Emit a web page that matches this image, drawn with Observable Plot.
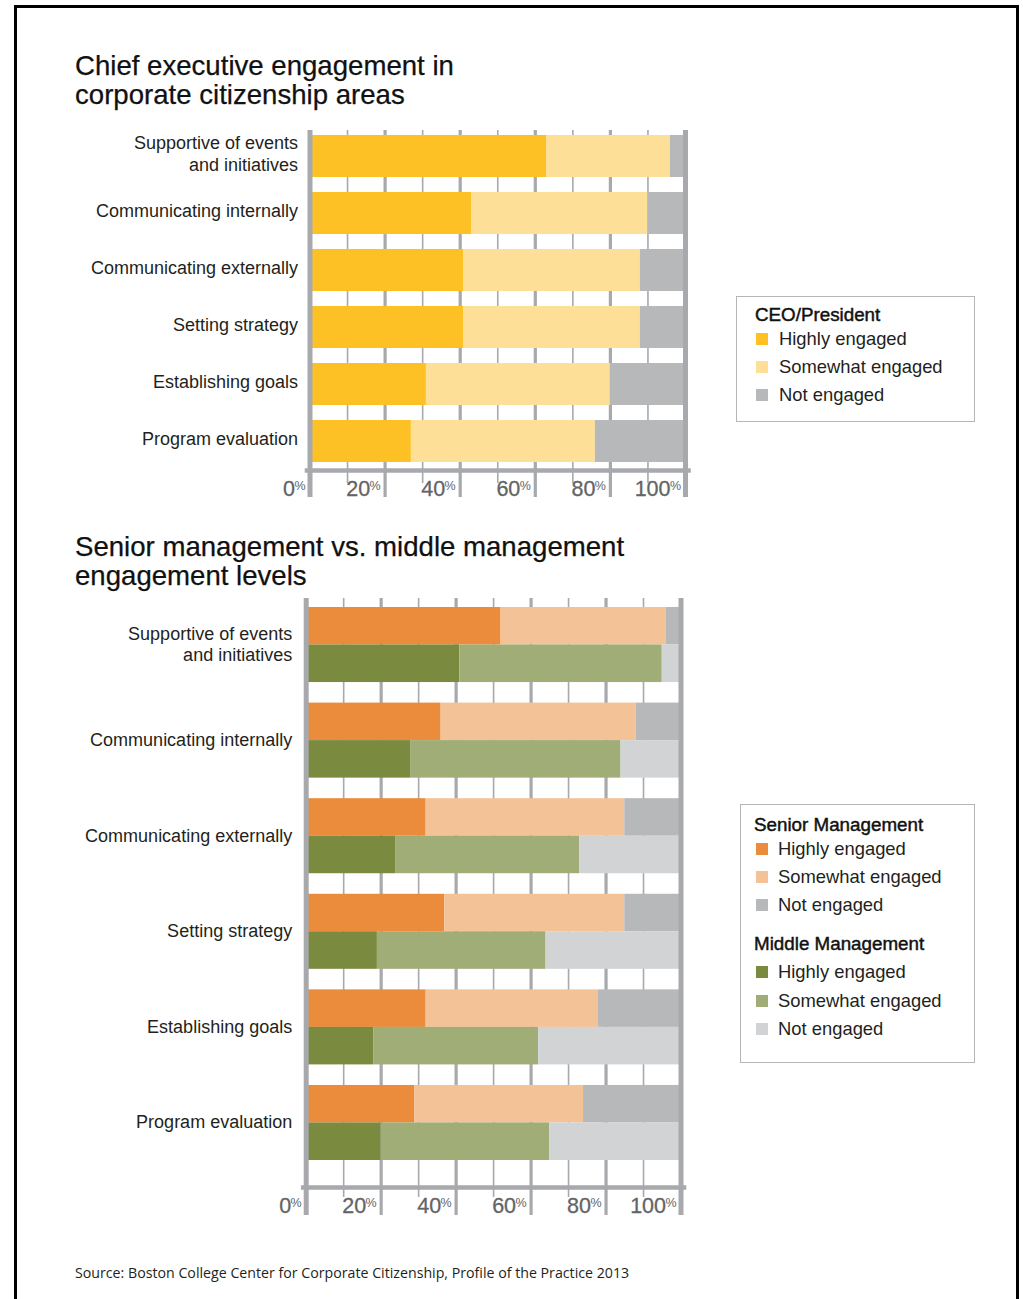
<!DOCTYPE html>
<html>
<head>
<meta charset="utf-8">
<script src="https://cdn.jsdelivr.net/npm/d3@7"></script>
<script src="https://cdn.jsdelivr.net/npm/@observablehq/plot@0.6"></script>
<style>
  html, body { margin: 0; padding: 0; width: 1023px; height: 1299px; overflow: hidden; background: #fff; }
  body { position: relative; font-family: "Liberation Sans", Arial, sans-serif; color: #231f20; }
  .page-border { position: absolute; left: 14px; top: 5px; width: 999px; height: 1300px; border: 3px solid #000; border-bottom: none; }
  .title { position: absolute; left: 75px; font-size: 27.6px; line-height: 29px; color: #111; -webkit-text-stroke: 0.25px #111; white-space: nowrap; }
  .chart { position: absolute; left: 0; }
  .legend { position: absolute; border: 1px solid #b5b6b8; box-sizing: border-box; }
  .legend .head { position: absolute; font-size: 18.8px; color: #111; -webkit-text-stroke: 0.45px #111; white-space: nowrap; transform: translateY(-50%); }
  .legend .item { position: absolute; font-size: 18.4px; color: #231f20; white-space: nowrap; transform: translateY(-50%); }
  .legend .sw { position: absolute; width: 12px; height: 12px; transform: translateY(-50%); }
  .source { position: absolute; left: 75px; top: 1263px; font-family: "Open Sans", sans-serif; font-size: 14.2px; color: #231f20; white-space: nowrap; }
</style>
</head>
<body>
<div class="page-border"></div>
<div class="title" style="top:51px">Chief executive engagement in<br>corporate citizenship areas</div>
<div class="title" style="top:532px">Senior management vs. middle management<br>engagement levels</div>
<div id="chart1" class="chart" style="top:120px"></div>
<div id="chart2" class="chart" style="top:590px"></div>
<div id="legend1" class="legend" style="left:736px; top:296px; width:239px; height:126px"></div>
<div id="legend2" class="legend" style="left:740px; top:804px; width:235px; height:259px"></div>
<div class="source">Source: Boston College Center for Corporate Citizenship, Profile of the Practice 2013</div>
<script>
// ---- Data ----
const categories = [
  "Supportive of events\nand initiatives",
  "Communicating internally",
  "Communicating externally",
  "Setting strategy",
  "Establishing goals",
  "Program evaluation"
];
const levels = ["Highly engaged", "Somewhat engaged", "Not engaged"];

// CEO/President (percent)
const ceoHighly   = [63, 43, 41, 41, 31, 27];
const ceoSomewhat = [33, 47, 47, 47, 49, 49];
const ceoNot      = [4, 10, 12, 12, 20, 24];

// Senior management (percent)
const seniorHighly   = [52, 36, 32, 37, 32, 29];
const seniorSomewhat = [44, 52, 53, 48, 46, 45];
const seniorNot      = [4, 12, 15, 15, 22, 26];

// Middle management (percent)
const middleHighly   = [41, 28, 24, 19, 18, 20];
const middleSomewhat = [54, 56, 49, 45, 44, 45];
const middleNot      = [5, 16, 27, 36, 38, 35];

const tickValues = [0, 20, 40, 60, 80, 100];
const minorTicks = [10, 30, 50, 70, 90];
const majorTicks = [20, 40, 60, 80];
const edgeTicks = [0, 100];

const ceoColors = ["#fdc125", "#fedf98", "#b7b8ba"];
const seniorColors = ["#ea8c3b", "#f4c297", "#b7b8ba"];
const middleColors = ["#7a8b40", "#a0ad76", "#d2d3d5"];
const gray = "#a7a9ac";
const fontFamily = "'Liberation Sans', Arial, sans-serif";

// ---- Build long tables ----
function longTable(group, seriesList) {
  const rows = [];
  categories.forEach((c, i) => {
    levels.forEach((l, j) => rows.push({category: c, level: l, key: group + " " + l, value: seriesList[j][i]}));
  });
  return rows;
}
const ceoData = longTable("CEO", [ceoHighly, ceoSomewhat, ceoNot]);
const seniorData = longTable("Senior", [seniorHighly, seniorSomewhat, seniorNot]);
const middleData = longTable("Middle", [middleHighly, middleSomewhat, middleNot]);

function axisMarks(thickBottom, thinBottom) {
  return {
    under: [
      Plot.gridX(minorTicks, {stroke: gray, strokeOpacity: 1, strokeWidth: 1.6, insetBottom: -thinBottom}),
      Plot.gridX(majorTicks, {stroke: gray, strokeOpacity: 1, strokeWidth: 3.2, insetBottom: -thickBottom})
    ],
    over: [
      Plot.frame({anchor: "bottom", stroke: gray, strokeWidth: 4.5, insetLeft: -3, insetRight: -3}),
      Plot.gridX(edgeTicks, {stroke: gray, strokeOpacity: 1, strokeWidth: 5, insetBottom: -thickBottom}),
      Plot.text(tickValues, {x: d => d, frameAnchor: "bottom", text: d => String(d), textAnchor: "end", lineAnchor: "top", dx: -15, dy: 10, fontSize: 21.5, fill: "#636466", stroke: "#636466", strokeWidth: 0.3}),
      Plot.text(tickValues, {x: d => d, frameAnchor: "bottom", text: () => "%", textAnchor: "end", lineAnchor: "top", dx: -4.5, dy: 11, fontSize: 12.5, fill: "#636466"})
    ]
  };
}

// ---- Chart 1 ----
const a1 = axisMarks(27, 13);
const chart1 = Plot.plot({
  width: 700,
  height: 390,
  marginTop: 10,
  marginBottom: 40,
  marginLeft: 309.5,
  marginRight: 15,
  style: {fontFamily, background: "transparent", overflow: "visible"},
  x: {domain: [0, 100], axis: null},
  y: {domain: categories, range: [15, 342], paddingInner: 0.263, paddingOuter: 0, round: false, axis: null},
  color: {domain: levels.map(l => "CEO " + l), range: ceoColors},
  marks: [
    ...a1.under,
    Plot.barX(ceoData, Plot.stackX({x: "value", y: "category", fill: "key"})),
    ...a1.over,
    Plot.text(categories, {x: 0, y: d => d, text: d => d, textAnchor: "end", lineAnchor: "middle", dx: -12, dy: -3.5, fontSize: 18, lineHeight: 1.22, fill: "#231f20"})
  ]
});
document.getElementById("chart1").appendChild(chart1);

// ---- Chart 2 ----
const a2 = axisMarks(28, 10);
const half = 37.5;
const chart2 = Plot.plot({
  width: 700,
  height: 640,
  marginTop: 8,
  marginBottom: 43,
  marginLeft: 305.7,
  marginRight: 19.5,
  style: {fontFamily, background: "transparent", overflow: "visible"},
  x: {domain: [0, 100], axis: null},
  y: {domain: categories, range: [17, 570], paddingInner: 0.215, paddingOuter: 0, round: false, axis: null},
  color: {
    domain: [...levels.map(l => "Senior " + l), ...levels.map(l => "Middle " + l)],
    range: [...seniorColors, ...middleColors]
  },
  marks: [
    ...a2.under,
    Plot.barX(seniorData, Plot.stackX({x: "value", y: "category", fill: "key", insetBottom: half})),
    Plot.barX(middleData, Plot.stackX({x: "value", y: "category", fill: "key", insetTop: half})),
    ...a2.over,
    Plot.text(categories, {x: 0, y: d => d, text: d => d, textAnchor: "end", lineAnchor: "middle", dx: -14, dy: -1.5, fontSize: 18, lineHeight: 1.2, fill: "#231f20"})
  ]
});
document.getElementById("chart2").appendChild(chart2);

// ---- Legends ----
function addLegend(el, sections) {
  sections.forEach(sec => {
    const h = document.createElement("div");
    h.className = "head";
    h.style.left = sec.textLeft + "px";
    h.style.top = sec.headY + "px";
    h.textContent = sec.title;
    el.appendChild(h);
    levels.forEach((l, i) => {
      const y = sec.firstY + i * sec.step;
      const sw = document.createElement("div");
      sw.className = "sw";
      sw.style.left = sec.swLeft + "px";
      sw.style.top = y + "px";
      sw.style.background = sec.colors[i];
      el.appendChild(sw);
      const t = document.createElement("div");
      t.className = "item";
      t.style.left = sec.itemLeft + "px";
      t.style.top = y + "px";
      t.textContent = l;
      el.appendChild(t);
    });
  });
}
addLegend(document.getElementById("legend1"), [
  {title: "CEO/President", colors: ceoColors, textLeft: 18, headY: 18, firstY: 42, step: 28, swLeft: 19, itemLeft: 42}
]);
addLegend(document.getElementById("legend2"), [
  {title: "Senior Management", colors: seniorColors, textLeft: 13, headY: 20, firstY: 44, step: 28, swLeft: 15, itemLeft: 37},
  {title: "Middle Management", colors: middleColors, textLeft: 13, headY: 139, firstY: 167, step: 28.5, swLeft: 15, itemLeft: 37}
]);
</script>
</body>
</html>
